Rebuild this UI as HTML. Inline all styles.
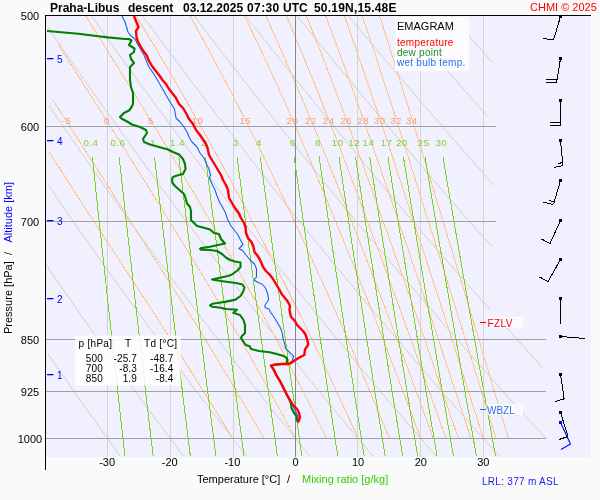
<!DOCTYPE html><html><head><meta charset="utf-8"><title>Emagram Praha-Libus</title><style>
html,body{margin:0;padding:0;background:#fafafa;width:600px;height:500px;overflow:hidden}
svg{display:block}text{font-family:"Liberation Sans",Arial,Helvetica,sans-serif}
</style></head><body>
<svg width="600" height="500" viewBox="0 0 600 500">
<defs><clipPath id="pc"><rect x="46" y="16" width="545" height="441"/></clipPath><clipPath id="dc"><rect x="47" y="16" width="544" height="441"/></clipPath></defs>
<rect x="46" y="16" width="545" height="441" fill="#f0f0ff"/>
<g clip-path="url(#pc)">
<path d="M107.5 16V457M170.5 16V457M233.5 16V457M357.5 16V457M420.5 16V457M483.5 16V457" stroke="#d4d4d4" stroke-width="1" fill="none" shape-rendering="crispEdges"/>
<g stroke="#d2d2ca" stroke-width="1" fill="none"><polyline points="48.12,353.8 52.91,360.83 57.65,367.78 62.36,374.65 67.03,381.45 71.67,388.17 76.26,394.75 80.83,401.2 85.36,407.58 89.85,413.89 94.31,420.14 98.74,426.32 103.14,432.44 107.5,438.5 111.83,444.5 116.14,450.44 120.41,456.32"/><polyline points="45.11,263.43 50.65,271.48 56.13,279.43 61.56,287.27 66.95,295.01 72.28,302.65 77.57,310.2 82.81,317.66 88,325.03 93.15,332.31 98.26,339.5 103.33,346.69 108.35,353.8 113.33,360.83 118.27,367.78 123.17,374.65 128.03,381.45 132.86,388.17 137.65,394.75 142.4,401.2 147.11,407.58 151.79,413.89 156.44,420.14 161.05,426.32 165.62,432.44 170.17,438.5 174.68,444.5 179.16,450.44 183.61,456.32"/><polyline points="48.42,185.24 54.72,194.51 60.95,203.64 67.12,212.63 73.22,221.5 79.26,230.12 85.24,238.62 91.17,247 97.03,255.27 102.84,263.43 108.59,271.48 114.29,279.43 119.94,287.27 125.54,295.01 131.08,302.65 136.58,310.2 142.02,317.66 147.43,325.03 152.78,332.31 158.09,339.5 163.35,346.69 168.57,353.8 173.75,360.83 178.89,367.78 183.98,374.65 189.04,381.45 194.05,388.17 199.03,394.75 203.97,401.2 208.87,407.58 213.73,413.89 218.56,420.14 223.35,426.32 228.11,432.44 232.83,438.5 237.52,444.5 242.18,450.44 246.8,456.32"/><polyline points="49.03,105.86 56.19,116.27 63.27,126.5 70.27,136.69 77.19,146.71 84.02,156.57 90.78,166.27 97.46,175.83 104.07,185.24 110.61,194.51 117.08,203.64 123.49,212.63 129.82,221.5 136.09,230.12 142.3,238.62 148.45,247 154.54,255.27 160.57,263.43 166.54,271.48 172.46,279.43 178.32,287.27 184.13,295.01 189.88,302.65 195.59,310.2 201.24,317.66 206.85,325.03 212.4,332.31 217.91,339.5 223.38,346.69 228.8,353.8 234.17,360.83 239.5,367.78 244.79,374.65 250.04,381.45 255.24,388.17 260.41,394.75 265.54,401.2 270.62,407.58 275.67,413.89 280.68,420.14 285.66,426.32 290.6,432.44 295.5,438.5 300.37,444.5 305.2,450.44 310,456.32"/><polyline points="47.92,27.56 56.06,39.38 64.09,50.97 72.01,62.35 79.82,73.53 87.53,84.5 95.15,95.27 102.67,105.86 110.1,116.27 117.44,126.5 124.69,136.69 131.86,146.71 138.95,156.57 145.95,166.27 152.88,175.83 159.73,185.24 166.51,194.51 173.22,203.64 179.85,212.63 186.42,221.5 192.92,230.12 199.36,238.62 205.73,247 212.04,255.27 218.29,263.43 224.48,271.48 230.62,279.43 236.69,287.27 242.71,295.01 248.68,302.65 254.6,310.2 260.46,317.66 266.27,325.03 272.03,332.31 277.74,339.5 283.4,346.69 289.02,353.8 294.59,360.83 300.12,367.78 305.6,374.65 311.04,381.45 316.44,388.17 321.79,394.75 327.11,401.2 332.38,407.58 337.61,413.89 342.81,420.14 347.96,426.32 353.08,432.44 358.17,438.5 363.21,444.5 368.22,450.44 373.2,456.32"/><polyline points="91.09,15.5 99.63,27.56 108.06,39.38 116.37,50.97 124.57,62.35 132.66,73.53 140.64,84.5 148.53,95.27 156.31,105.86 164.01,116.27 171.6,126.5 179.11,136.69 186.53,146.71 193.87,156.57 201.12,166.27 208.3,175.83 215.39,185.24 222.41,194.51 229.35,203.64 236.22,212.63 243.02,221.5 249.75,230.12 256.42,238.62 263.02,247 269.55,255.27 276.02,263.43 282.43,271.48 288.78,279.43 295.07,287.27 301.3,295.01 307.48,302.65 313.6,310.2 319.67,317.66 325.69,325.03 331.65,332.31 337.57,339.5 343.43,346.69 349.25,353.8 355.02,360.83 360.74,367.78 366.41,374.65 372.04,381.45 377.63,388.17 383.17,394.75 388.68,401.2 394.13,407.58 399.55,413.89 404.93,420.14 410.27,426.32 415.57,432.44 420.83,438.5 426.06,444.5 431.25,450.44 436.4,456.32"/><polyline points="142.51,15.5 151.34,27.56 160.06,39.38 168.65,50.97 177.13,62.35 185.49,73.53 193.75,84.5 201.91,95.27 209.96,105.86 217.91,116.27 225.77,126.5 233.53,136.69 241.21,146.71 248.79,156.57 256.3,166.27 263.71,175.83 271.05,185.24 278.31,194.51 285.49,203.64 292.59,212.63 299.62,221.5 306.59,230.12 313.48,238.62 320.3,247 327.06,255.27 333.75,263.43 340.38,271.48 346.94,279.43 353.45,287.27 359.89,295.01 366.28,302.65 372.61,310.2 378.89,317.66 385.11,325.03 391.28,332.31 397.39,339.5 403.46,346.69 409.47,353.8 415.44,360.83 421.35,367.78 427.22,374.65 433.05,381.45 438.82,388.17 444.56,394.75 450.25,401.2 455.89,407.58 461.49,413.89 467.06,420.14 472.58,426.32 478.06,432.44 483.5,438.5 488.9,444.5 494.27,450.44 499.6,456.32"/><polyline points="193.93,15.5 203.05,27.56 212.05,39.38 220.93,50.97 229.69,62.35 238.33,73.53 246.86,84.5 255.28,95.27 263.6,105.86 271.82,116.27 279.93,126.5 287.96,136.69 295.88,146.71 303.72,156.57 311.47,166.27 319.13,175.83 326.71,185.24 334.21,194.51 341.62,203.64 348.96,212.63 356.23,221.5 363.42,230.12 370.53,238.62 377.58,247 384.56,255.27 391.47,263.43 398.32,271.48 405.1,279.43 411.82,287.27 418.48,295.01 425.08,302.65 431.62,310.2 438.1,317.66 444.53,325.03 450.9,332.31 457.22,339.5 463.48,346.69 469.7,353.8 475.86,360.83 481.97,367.78 488.03,374.65 494.05,381.45 500.02,388.17 505.94,394.75 511.81,401.2 517.65,407.58 523.44,413.89 529.18,420.14 534.88,426.32 540.55,432.44 546.17,438.5"/><polyline points="245.35,15.5 254.76,27.56 264.05,39.38 273.21,50.97 282.25,62.35 291.17,73.53 299.97,84.5 308.66,95.27 317.24,105.86 325.72,116.27 334.1,126.5 342.38,136.69 350.56,146.71 358.64,156.57 366.64,166.27 374.55,175.83 382.37,185.24 390.1,194.51 397.76,203.64 405.33,212.63 412.83,221.5 420.25,230.12 427.59,238.62 434.87,247 442.07,255.27 449.2,263.43 456.27,271.48 463.27,279.43 470.2,287.27 477.07,295.01 483.88,302.65 490.63,310.2"/><polyline points="503.95,325.03 510.53,332.31 517.05,339.5 523.51,346.69 529.92,353.8 536.28,360.83 542.59,367.78"/><polyline points="296.76,15.5 306.47,27.56 316.05,39.38 325.49,50.97 334.81,62.35 344,73.53 353.08,84.5 362.04,95.27 370.89,105.86 379.63,116.27 388.26,126.5 396.8,136.69 405.23,146.71 413.57,156.57 421.81,166.27 429.96,175.83 438.03,185.24 446,194.51 453.89,203.64 461.7,212.63 469.43,221.5 477.08,230.12 484.65,238.62 492.15,247"/><polyline points="348.18,15.5 358.18,27.56 368.05,39.38 377.77,50.97 387.37,62.35 396.84,73.53 406.19,84.5 415.42,95.27 424.53,105.86 433.53,116.27 442.43,126.5 451.22,136.69 459.91,146.71 468.49,156.57 476.98,166.27 485.38,175.83 493.68,185.24"/><polyline points="399.6,15.5 409.89,27.56 420.04,39.38 430.05,50.97 439.93,62.35 449.68,73.53 459.3,84.5 468.79,95.27 478.17,105.86 487.44,116.27"/><polyline points="451.02,15.5 461.6,27.56 472.04,39.38 482.33,50.97 492.49,62.35"/></g>
<g stroke="#ffc48a" stroke-width="1" fill="none" shape-rendering="crispEdges"><polyline points="48.84,151.66 64.36,175.83 79.35,199.09 93.84,221.5 107.84,242.83 121.36,263.43 134.41,283.36 147.02,302.65 159.18,321.36 170.9,339.5 182.19,357.33 193.07,374.65 203.56,391.5 213.67,407.58 223.42,423.24 232.83,438.5"/><polyline points="53.32,100.59 70,126.5 86.05,151.66 101.49,175.83 116.34,199.09 130.61,221.5 144.34,242.83 157.54,263.43 170.22,283.36 182.41,302.65 194.13,321.36 205.37,339.5 216.16,357.33 226.53,374.65 236.49,391.5 246.07,407.58 255.29,423.24 264.17,438.5"/><polyline points="58.73,45.2 76.75,73.53 94,100.59 110.49,126.5 126.27,151.66 141.36,175.83 155.78,199.09 169.56,221.5 182.74,242.83 195.35,263.43 207.42,283.36 218.97,302.65 230.02,321.36 240.59,339.5 250.71,357.33 260.41,374.65 269.72,391.5 278.65,407.58 287.24,423.24 295.5,438.5"/><polyline points="85.46,15.5 104.05,45.2 121.71,73.53 138.48,100.59 154.39,126.5 169.49,151.66 183.83,175.83 197.45,199.09 210.41,221.5 222.73,242.83 234.47,263.43 245.67,283.36 256.36,302.65 266.56,321.36 276.31,339.5 285.63,357.33 294.56,374.65 303.12,391.5 311.34,407.58 319.23,423.24 326.83,438.5"/><polyline points="136.07,15.5 153.83,45.2 170.53,73.53 186.24,100.59 201.03,126.5 214.97,151.66 228.14,175.83 240.59,199.09 252.39,221.5 263.6,242.83 274.25,263.43 284.4,283.36 294.09,302.65 303.35,321.36 312.19,339.5 320.65,357.33 328.76,374.65 336.54,391.5 344.02,407.58 351.23,423.24 358.17,438.5"/><polyline points="189.98,15.5 206.2,45.2 221.32,73.53 235.44,100.59 248.69,126.5 261.13,151.66 272.86,175.83 283.95,199.09 294.45,221.5 304.42,242.83 313.92,263.43 322.99,283.36 331.66,302.65 339.95,321.36 347.89,339.5 355.51,357.33 362.82,374.65 369.86,391.5 376.64,407.58 383.18,423.24 389.5,438.5"/><polyline points="244.43,15.5 258.57,45.2 271.72,73.53 284.02,100.59 295.55,126.5 306.42,151.66 316.68,175.83 326.4,199.09 335.64,221.5 344.45,242.83 352.86,263.43 360.91,283.36 368.63,302.65 376.04,321.36 383.16,339.5 390.01,357.33 396.61,374.65 402.97,391.5 409.12,407.58 415.07,423.24 420.83,438.5"/><polyline points="265.65,15.5 278.92,45.2 291.29,73.53 302.87,100.59 313.76,126.5 324.02,151.66 333.74,175.83 342.96,199.09 351.74,221.5 360.12,242.83 368.14,263.43 375.82,283.36 383.2,302.65 390.29,321.36 397.12,339.5 403.69,357.33 410.03,374.65 416.15,391.5 422.07,407.58 427.81,423.24 433.37,438.5"/><polyline points="286.32,15.5 298.76,45.2 310.38,73.53 321.29,100.59 331.56,126.5 341.27,151.66 350.48,175.83 359.24,199.09 367.59,221.5 375.58,242.83 383.23,263.43 390.57,283.36 397.63,302.65 404.43,321.36 410.98,339.5 417.29,357.33 423.39,374.65 429.29,391.5 435,407.58 440.53,423.24 445.9,438.5"/><polyline points="306.33,15.5 318.01,45.2 328.94,73.53 339.23,100.59 348.94,126.5 358.15,151.66 366.89,175.83 375.23,199.09 383.19,221.5 390.81,242.83 398.12,263.43 405.15,283.36 411.92,302.65 418.45,321.36 424.74,339.5 430.81,357.33 436.69,374.65 442.38,391.5 447.89,407.58 453.24,423.24 458.43,438.5"/><polyline points="325.65,15.5 336.64,45.2 346.95,73.53 356.68,100.59 365.9,126.5 374.64,151.66 382.97,175.83 390.92,199.09 398.53,221.5 405.82,242.83 412.83,263.43 419.57,283.36 426.07,302.65 432.35,321.36 438.4,339.5 444.26,357.33 449.93,374.65 455.43,391.5 460.76,407.58 465.93,423.24 470.97,438.5"/><polyline points="344.27,15.5 354.65,45.2 364.42,73.53 373.66,100.59 382.42,126.5 390.76,151.66 398.72,175.83 406.32,199.09 413.61,221.5 420.61,242.83 427.34,263.43 433.83,283.36 440.09,302.65 446.13,321.36 451.98,339.5 457.63,357.33 463.12,374.65 468.43,391.5 473.6,407.58 478.62,423.24 483.5,438.5"/><polyline points="362.23,15.5 372.07,45.2 381.36,73.53 390.17,100.59 398.54,126.5 406.52,151.66 414.15,175.83 421.45,199.09 428.45,221.5 435.19,242.83 441.67,263.43 447.93,283.36 453.97,302.65 459.81,321.36 465.46,339.5 470.93,357.33 476.24,374.65 481.4,391.5 486.41,407.58 491.29,423.24 496.03,438.5"/><polyline points="379.54,15.5 388.93,45.2 397.81,73.53 406.25,100.59 414.28,126.5 421.95,151.66 429.28,175.83 436.31,199.09 443.07,221.5 449.57,242.83 455.83,263.43 461.88,283.36 467.72,302.65 473.37,321.36 478.85,339.5 484.16,357.33 489.32,374.65 494.33,391.5 499.2,407.58 503.95,423.24 508.57,438.5"/></g>
<path d="M46 126.5H496M46 221.5H496M46 339.5H546M46 391.5H546M46 438.5H546" stroke="#a0a0a0" stroke-width="1" shape-rendering="crispEdges"/>
<path d="M295.5 16V457" stroke="#888" stroke-width="1" shape-rendering="crispEdges"/>
<g stroke="#7cd21c" stroke-width="1" fill="none" shape-rendering="crispEdges"><polyline points="92.31,156.57 93.33,166.27 94.34,175.83 95.33,185.24 96.31,194.51 97.28,203.64 98.23,212.63 99.18,221.5 100.11,230.12 101.03,238.62 101.93,247 102.83,255.27 103.72,263.43 104.59,271.48 105.46,279.43 106.31,287.27 107.16,295.01 107.99,302.65 108.82,310.2 109.63,317.66 110.44,325.03 111.24,332.31 112.03,339.5 112.81,346.69 113.59,353.8 114.35,360.83 115.11,367.78 115.86,374.65 116.61,381.45 117.34,388.17 118.07,394.75 118.79,401.2 119.51,407.58 120.21,413.89 120.92,420.14 121.61,426.32 122.3,432.44 122.98,438.5 123.66,444.5 124.33,450.44 124.99,456.32"/><polyline points="119.13,156.57 120.19,166.27 121.24,175.83 122.28,185.24 123.3,194.51 124.31,203.64 125.3,212.63 126.28,221.5 127.25,230.12 128.21,238.62 129.15,247 130.09,255.27 131.01,263.43 131.92,271.48 132.82,279.43 133.71,287.27 134.59,295.01 135.46,302.65 136.32,310.2 137.17,317.66 138.01,325.03 138.84,332.31 139.67,339.5 140.48,346.69 141.29,353.8 142.09,360.83 142.88,367.78 143.66,374.65 144.43,381.45 145.2,388.17 145.96,394.75 146.71,401.2 147.46,407.58 148.19,413.89 148.92,420.14 149.65,426.32 150.37,432.44 151.08,438.5 151.78,444.5 152.48,450.44 153.17,456.32"/><polyline points="154.49,156.57 155.61,166.27 156.72,175.83 157.81,185.24 158.89,194.51 159.95,203.64 160.99,212.63 162.03,221.5 163.05,230.12 164.06,238.62 165.05,247 166.04,255.27 167.01,263.43 167.97,271.48 168.92,279.43 169.85,287.27 170.78,295.01 171.7,302.65 172.6,310.2 173.5,317.66 174.39,325.03 175.26,332.31 176.13,339.5 176.99,346.69 177.84,353.8 178.68,360.83 179.51,367.78 180.34,374.65 181.15,381.45 181.96,388.17 182.76,394.75 183.56,401.2 184.34,407.58 185.12,413.89 185.89,420.14 186.65,426.32 187.41,432.44 188.16,438.5 188.9,444.5 189.64,450.44 190.37,456.32"/><polyline points="178.8,156.57 179.96,166.27 181.11,175.83 182.24,185.24 183.35,194.51 184.45,203.64 185.53,212.63 186.6,221.5 187.66,230.12 188.71,238.62 189.74,247 190.76,255.27 191.76,263.43 192.76,271.48 193.74,279.43 194.71,287.27 195.67,295.01 196.62,302.65 197.56,310.2 198.49,317.66 199.41,325.03 200.31,332.31 201.21,339.5 202.1,346.69 202.98,353.8 203.85,360.83 204.72,367.78 205.57,374.65 206.42,381.45 207.25,388.17 208.08,394.75 208.9,401.2 209.72,407.58 210.52,413.89 211.32,420.14 212.11,426.32 212.9,432.44 213.67,438.5 214.44,444.5 215.21,450.44 215.96,456.32"/><polyline points="205.5,156.57 206.7,166.27 207.89,175.83 209.06,185.24 210.22,194.51 211.36,203.64 212.49,212.63 213.6,221.5 214.7,230.12 215.78,238.62 216.85,247 217.91,255.27 218.96,263.43 219.99,271.48 221.01,279.43 222.02,287.27 223.01,295.01 224,302.65 224.98,310.2 225.94,317.66 226.89,325.03 227.84,332.31 228.77,339.5 229.7,346.69 230.61,353.8 231.52,360.83 232.41,367.78 233.3,374.65 234.18,381.45 235.05,388.17 235.91,394.75 236.76,401.2 237.61,407.58 238.45,413.89 239.28,420.14 240.1,426.32 240.91,432.44 241.72,438.5 242.52,444.5 243.31,450.44 244.1,456.32"/><polyline points="237.06,156.57 238.32,166.27 239.56,175.83 240.78,185.24 241.99,194.51 243.19,203.64 244.36,212.63 245.52,221.5 246.67,230.12 247.8,238.62 248.92,247 250.03,255.27 251.12,263.43 252.2,271.48 253.26,279.43 254.32,287.27 255.36,295.01 256.39,302.65 257.41,310.2 258.42,317.66 259.42,325.03 260.4,332.31 261.38,339.5 262.34,346.69 263.3,353.8 264.25,360.83 265.18,367.78 266.11,374.65 267.03,381.45 267.94,388.17 268.84,394.75 269.73,401.2 270.62,407.58 271.49,413.89 272.36,420.14 273.22,426.32 274.07,432.44 274.91,438.5 275.75,444.5 276.58,450.44 277.4,456.32"/><polyline points="260.27,156.57 261.57,166.27 262.85,175.83 264.11,185.24 265.36,194.51 266.59,203.64 267.81,212.63 269,221.5 270.19,230.12 271.36,238.62 272.51,247 273.65,255.27 274.78,263.43 275.89,271.48 276.99,279.43 278.08,287.27 279.16,295.01 280.22,302.65 281.27,310.2 282.32,317.66 283.34,325.03 284.36,332.31 285.37,339.5 286.37,346.69 287.36,353.8 288.33,360.83 289.3,367.78 290.26,374.65 291.21,381.45 292.14,388.17 293.08,394.75 294,401.2 294.91,407.58 295.81,413.89 296.71,420.14 297.6,426.32 298.48,432.44 299.35,438.5 300.21,444.5 301.07,450.44 301.92,456.32"/><polyline points="294.18,156.57 295.54,166.27 296.88,175.83 298.2,185.24 299.5,194.51 300.79,203.64 302.06,212.63 303.32,221.5 304.55,230.12 305.78,238.62 306.99,247 308.18,255.27 309.36,263.43 310.52,271.48 311.68,279.43 312.82,287.27 313.94,295.01 315.05,302.65 316.16,310.2 317.25,317.66 318.32,325.03 319.39,332.31 320.44,339.5 321.49,346.69 322.52,353.8 323.54,360.83 324.56,367.78 325.56,374.65 326.55,381.45 327.54,388.17 328.51,394.75 329.47,401.2 330.43,407.58 331.38,413.89 332.31,420.14 333.24,426.32 334.17,432.44 335.08,438.5 335.98,444.5 336.88,450.44 337.77,456.32"/><polyline points="319.11,156.57 320.51,166.27 321.89,175.83 323.26,185.24 324.61,194.51 325.94,203.64 327.25,212.63 328.55,221.5 329.83,230.12 331.09,238.62 332.34,247 333.57,255.27 334.79,263.43 335.99,271.48 337.18,279.43 338.36,287.27 339.52,295.01 340.68,302.65 341.81,310.2 342.94,317.66 344.05,325.03 345.15,332.31 346.24,339.5 347.32,346.69 348.39,353.8 349.45,360.83 350.5,367.78 351.53,374.65 352.56,381.45 353.58,388.17 354.58,394.75 355.58,401.2 356.57,407.58 357.55,413.89 358.52,420.14 359.48,426.32 360.43,432.44 361.37,438.5 362.31,444.5 363.24,450.44 364.16,456.32"/><polyline points="338.95,156.57 340.39,166.27 341.81,175.83 343.21,185.24 344.59,194.51 345.95,203.64 347.3,212.63 348.63,221.5 349.94,230.12 351.24,238.62 352.52,247 353.78,255.27 355.03,263.43 356.27,271.48 357.49,279.43 358.7,287.27 359.89,295.01 361.07,302.65 362.24,310.2 363.4,317.66 364.54,325.03 365.67,332.31 366.79,339.5 367.9,346.69 368.99,353.8 370.08,360.83 371.15,367.78 372.22,374.65 373.27,381.45 374.31,388.17 375.35,394.75 376.37,401.2 377.38,407.58 378.39,413.89 379.38,420.14 380.37,426.32 381.35,432.44 382.32,438.5 383.28,444.5 384.23,450.44 385.17,456.32"/><polyline points="355.48,156.57 356.95,166.27 358.4,175.83 359.83,185.24 361.25,194.51 362.64,203.64 364.01,212.63 365.37,221.5 366.71,230.12 368.04,238.62 369.35,247 370.64,255.27 371.92,263.43 373.18,271.48 374.43,279.43 375.66,287.27 376.88,295.01 378.08,302.65 379.28,310.2 380.46,317.66 381.63,325.03 382.78,332.31 383.92,339.5 385.05,346.69 386.17,353.8 387.28,360.83 388.38,367.78 389.47,374.65 390.54,381.45 391.61,388.17 392.66,394.75 393.71,401.2 394.75,407.58 395.77,413.89 396.79,420.14 397.8,426.32 398.8,432.44 399.79,438.5 400.77,444.5 401.74,450.44 402.7,456.32"/><polyline points="369.69,156.57 371.19,166.27 372.67,175.83 374.12,185.24 375.56,194.51 376.98,203.64 378.38,212.63 379.76,221.5 381.13,230.12 382.48,238.62 383.81,247 385.12,255.27 386.42,263.43 387.71,271.48 388.98,279.43 390.24,287.27 391.48,295.01 392.71,302.65 393.92,310.2 395.12,317.66 396.31,325.03 397.49,332.31 398.65,339.5 399.8,346.69 400.94,353.8 402.07,360.83 403.19,367.78 404.3,374.65 405.39,381.45 406.48,388.17 407.55,394.75 408.62,401.2 409.67,407.58 410.72,413.89 411.75,420.14 412.78,426.32 413.8,432.44 414.81,438.5 415.81,444.5 416.8,450.44 417.78,456.32"/><polyline points="387.89,156.57 389.42,166.27 390.93,175.83 392.42,185.24 393.89,194.51 395.34,203.64 396.77,212.63 398.19,221.5 399.59,230.12 400.96,238.62 402.33,247 403.67,255.27 405,263.43 406.32,271.48 407.62,279.43 408.9,287.27 410.17,295.01 411.43,302.65 412.67,310.2 413.9,317.66 415.12,325.03 416.32,332.31 417.51,339.5 418.69,346.69 419.86,353.8 421.02,360.83 422.16,367.78 423.29,374.65 424.41,381.45 425.52,388.17 426.62,394.75 427.71,401.2 428.79,407.58 429.86,413.89 430.92,420.14 431.97,426.32 433.02,432.44 434.05,438.5 435.07,444.5 436.08,450.44 437.09,456.32"/><polyline points="403.37,156.57 404.93,166.27 406.47,175.83 407.99,185.24 409.48,194.51 410.96,203.64 412.42,212.63 413.86,221.5 415.29,230.12 416.69,238.62 418.08,247 419.46,255.27 420.81,263.43 422.15,271.48 423.48,279.43 424.79,287.27 426.08,295.01 427.36,302.65 428.63,310.2 429.88,317.66 431.12,325.03 432.35,332.31 433.57,339.5 434.77,346.69 435.96,353.8 437.14,360.83 438.3,367.78 439.46,374.65 440.6,381.45 441.73,388.17 442.85,394.75 443.97,401.2 445.07,407.58 446.16,413.89 447.24,420.14 448.31,426.32 449.37,432.44 450.42,438.5 451.47,444.5 452.5,450.44 453.53,456.32"/><polyline points="424.97,156.57 426.57,166.27 428.15,175.83 429.71,185.24 431.25,194.51 432.77,203.64 434.27,212.63 435.75,221.5 437.21,230.12 438.66,238.62 440.08,247 441.49,255.27 442.88,263.43 444.26,271.48 445.62,279.43 446.97,287.27 448.3,295.01 449.61,302.65 450.91,310.2 452.2,317.66 453.47,325.03 454.74,332.31 455.98,339.5 457.22,346.69 458.44,353.8 459.65,360.83 460.85,367.78 462.03,374.65 463.21,381.45 464.37,388.17 465.52,394.75 466.67,401.2 467.8,407.58 468.92,413.89 470.03,420.14 471.13,426.32 472.22,432.44 473.3,438.5 474.37,444.5 475.44,450.44 476.49,456.32"/><polyline points="442.91,156.57 444.55,166.27 446.16,175.83 447.76,185.24 449.33,194.51 450.88,203.64 452.41,212.63 453.92,221.5 455.42,230.12 456.89,238.62 458.35,247 459.79,255.27 461.22,263.43 462.62,271.48 464.01,279.43 465.39,287.27 466.75,295.01 468.09,302.65 469.42,310.2 470.74,317.66 472.04,325.03 473.33,332.31 474.6,339.5 475.87,346.69 477.12,353.8 478.35,360.83 479.58,367.78 480.79,374.65 481.99,381.45 483.18,388.17 484.36,394.75 485.53,401.2 486.68,407.58 487.83,413.89 488.96,420.14 490.09,426.32 491.2,432.44 492.31,438.5 493.41,444.5 494.49,450.44 495.57,456.32"/></g>
</g>
<g fill="#fa9a7a" font-size="9.6" letter-spacing="0.5" text-anchor="middle"><text x="66.47" y="124">-5</text><text x="106.97" y="124">0</text><text x="150.86" y="124">5</text><text x="197.5" y="124">10</text><text x="245.33" y="124">15</text><text x="292.44" y="124">20</text><text x="310.74" y="124">22</text><text x="328.64" y="124">24</text><text x="346.12" y="124">26</text><text x="363.17" y="124">28</text><text x="379.8" y="124">30</text><text x="396.02" y="124">32</text><text x="411.85" y="124">34</text></g>
<g fill="#80d030" font-size="9.6" letter-spacing="0.5" text-anchor="middle"><text x="91.01" y="146">0.4</text><text x="117.83" y="146">0.6</text><text x="153.19" y="146">1</text><text x="177.5" y="146">1.4</text><text x="204.2" y="146">2</text><text x="235.76" y="146">3</text><text x="258.97" y="146">4</text><text x="292.88" y="146">6</text><text x="317.81" y="146">8</text><text x="337.65" y="146">10</text><text x="354.18" y="146">12</text><text x="368.39" y="146">14</text><text x="386.59" y="146">17</text><text x="402.07" y="146">20</text><text x="423.67" y="146">25</text><text x="441.61" y="146">30</text></g>
<g clip-path="url(#dc)" fill="none" stroke-linejoin="round" stroke-linecap="round">
<polyline points="30,30 47,31 78.3,33.7 98.3,36.3 107.7,37.4 125,39 129,39 131.5,40.5 129,45 134.5,48.5 134,52 130,55 131,59 134,63 130,67 130,80 131,87 133,93 133,100 133,104 131,108 129,110.5 124,113 120,117 121.5,118.5 128,122 132,124.5 140,127 146,130 147,133 145,136 143,139 144,142 150,144.5 159,147 168,149.5 173,152 179,154.5 183,159 185,164 185.5,169 183,174 177,175.5 173,177 172,179 172.5,183 175,186 180,190.5 184,194 185.5,198 187,203.5 190,207 191,211 191,220 194,223 197,226 203,227.5 210,229.5 214,233 219,234 221,239 225,243.5 218,245 210,246.8 201,248 200,248.8 201,249.6 210,250 217,251 222,254 226,257.5 230,260 235,261.5 240.5,262.5 240.5,267 238,270 232,274.5 228,276 221,277.5 212,279.5 221,281 228,282 236,283 242.5,284.5 244.5,287.5 243,292 240.5,296 235.5,299.6 225,301.9 217.5,303 212.3,303.8 210,305.3 212.3,306.8 219,307.5 226.5,309 237,309.8 233.3,312.8 240,315 243.5,320 245,325 245,333 242,336 241,338 243,341 245.7,345 249.7,346.3 251,349 259,351 269.7,352.3 277.7,354.3 284.3,356.3 287,358.3 287,362.3 285.7,363.7 281.7,364 275,364.6 271,365.7 273.7,369.7 276.3,375 279,379.5 281,383 284,389 287,395 289.5,400 291,404 291.5,408 294,413 296.5,416 297,420" stroke="#008000" stroke-width="2.1"/>
<polyline points="122,16 125,22 128,32 130,35 135,39 137.5,44 141,50 144,55 146,60 149,67 154.5,75 158,81 162,88 166,95 170,102 174.5,109 176,118 180,122 184,127 187,132 190,139 192,142 197,147 200,153 204,158 206.5,164 209,169 210.5,175 209.5,178 212,184 215,190 217,196 220,203 223,208 225.5,213 227.5,219 231,226 235,231 238,235 240.5,240 243,244.5 239,248.5 243,251 246,255 250,260 254.5,264 256.5,269 256.5,277 254,280 258,282.5 262,284 265.5,288 267,292 268,295 268.5,300 265,305 265,307.5 269,309 271,313 274,317 277,322 280,327 282,332 283,338 283.7,340.3 285.7,348.3 289.7,352.3 293.7,356.3 292.3,360.3 289.7,363.7 281.7,364 275,364.6 271,365.7 273.7,369.7 276.3,375 279,379.5 281,383 284,389 287,395 290,400 292.5,405 295,410 298,417 298.5,421" stroke="#1464e6" stroke-width="1.1"/>
<polyline points="134,14 134,16 136,21 138.5,27 136,31 136.5,37 138,42 141,47 144,52 146.5,55 148.5,60 152,66 155,70 159,75 162.5,80 166,84 169,89 173,94 176,98 179,104 183,108 186,113 189,119 193,124 196,130 200,135 203,139.5 205.5,143 207.5,148 209,155 212,160 215,165 218,170 221,175 223,180 226,185 228,190 229,198 232,203 235,208 239,213.5 241,218 244,223 245.5,227 246,233 248,238 251.5,242 253.5,247 254.5,252 257,255 259.5,259 261,262 263,267 266,271 270,275 273,279 276,284 279,289 282,294.5 285,298 288,302 290,306 289.5,310 291,317 295,321 297,325 300,328 303,331 305.5,334.5 307,339 308.3,344.3 305,349.7 304.3,355 299,357.7 295,360.3 291,363 288.3,364 281.7,364 275,364.6 271,365.7 273.7,369.7 276.3,375 279,379.5 281,383 284,389 287,395 290,400 293,405 297,409 299,413 300,417 299,420 298,422" stroke="#ff0000" stroke-width="2.4"/>
</g>
<rect x="395" y="17" width="74" height="54" fill="#ffffff" fill-opacity="0.8"/>
<text x="397" y="30" font-size="11" fill="#000">EMAGRAM</text>
<g font-size="10" letter-spacing="0.25">
<text x="397" y="45.5" fill="#ff0000">temperature</text>
<text x="397" y="55.5" fill="#228b22">dew point</text>
<text x="397" y="65.5" fill="#2d6fe6">wet bulb temp.</text>
</g>
<rect x="75" y="335.5" width="105.5" height="50" fill="#ffffff" fill-opacity="0.85"/>
<g font-size="10" fill="#000" letter-spacing="0.3">
<text x="78.5" y="347">p [hPa]</text><text x="125" y="347">T</text><text x="144" y="347">Td [°C]</text>
</g><g font-size="10" fill="#000" text-anchor="end" letter-spacing="0.15">
<text x="103" y="361.8">500</text><text x="137" y="361.8">-25.7</text><text x="173.5" y="361.8">-48.7</text>
<text x="103" y="371.8">700</text><text x="137" y="371.8">-8.3</text><text x="173.5" y="371.8">-16.4</text>
<text x="103" y="381.8">850</text><text x="137" y="381.8">1.9</text><text x="173.5" y="381.8">-8.4</text>
</g>
<rect x="487.5" y="317" width="35.5" height="11" fill="#ffffff" fill-opacity="0.75"/>
<path d="M480 322.5H486" stroke="#ff0000" stroke-width="1" shape-rendering="crispEdges"/>
<text x="487.5" y="327" font-size="10" fill="#ff0000" letter-spacing="0.4">FZLV</text>
<rect x="486.5" y="404" width="36.5" height="11" fill="#ffffff" fill-opacity="0.75"/>
<path d="M480 409.5H486" stroke="#2d6fe6" stroke-width="1" shape-rendering="crispEdges"/>
<text x="487" y="414" font-size="10" fill="#2d6fe6">WBZL</text>
<g stroke="#000" stroke-width="1" fill="none" shape-rendering="crispEdges">
<path d="M560.5 16.5L553.5 40M553.5 40L543 38.5"/>
<path d="M560.5 58.5L556.5 83M556.5 80L546 79.5M556.5 83L546 82.5"/>
<path d="M560.5 100.5L560.5 125.5M560.5 122.5L550 122.5M560.5 125.5L550 125.5"/>
<path d="M560.5 140.5L563 165.5M563 165.5L554 167.5M563 162.5L558 163.5"/>
<path d="M560.5 180.5L553.5 204.5M553.5 204.5L543 202M553.5 202L549 200"/>
<path d="M560.5 220.5L550 243.5M550 243.5L541.5 239"/>
<path d="M560.5 259.5L548 281.5M548 281.5L539.5 277"/>
<path d="M560.5 298.5L560.5 323.5"/>
<path d="M560.5 336.5L584.8 338.5"/>
<path d="M560.5 374.5L564.2 398.8M564.2 398.8L555.2 401.5"/>
<path d="M560.5 412.5L568 436.5M568 436.5L559 439.5"/>
</g><g fill="#000">
<rect x="559" y="15" width="3" height="3"/>
<rect x="559" y="57" width="3" height="3"/>
<rect x="559" y="99" width="3" height="3"/>
<rect x="559" y="139" width="3" height="3"/>
<rect x="559" y="179" width="3" height="3"/>
<rect x="559" y="219" width="3" height="3"/>
<rect x="559" y="258" width="3" height="3"/>
<rect x="559" y="297" width="3" height="3"/>
<rect x="559" y="335" width="3" height="3"/>
<rect x="559" y="373" width="3" height="3"/>
<rect x="559" y="411" width="3" height="3"/>
</g>
<path d="M560.5 422.5L570.5 444L561 449.5" stroke="#0000ff" stroke-width="1.1" fill="none"/>
<rect x="559" y="421" width="3" height="3" fill="#0000ff"/>
<path d="M45 15.5H591M45.5 15V470" stroke="#000" stroke-width="1" shape-rendering="crispEdges"/>
<g font-size="12" font-weight="bold" fill="#000">
<text x="50" y="12">Praha-Libus</text><text x="128" y="12">descent</text><text x="183" y="12">03.12.2025</text><text x="247" y="12" letter-spacing="0.4">07:30</text><text x="283" y="12">UTC</text><text x="314" y="12" letter-spacing="0.2">50.19N,15.48E</text>
</g>
<text x="530" y="11" font-size="11" fill="#ff0000">CHMI © 2025</text>
<g font-size="11" fill="#000" text-anchor="middle">
<text x="30" y="19.8">500</text>
<text x="30" y="130.8">600</text>
<text x="30" y="225.8">700</text>
<text x="30" y="343.8">850</text>
<text x="30" y="395.8">925</text>
<text x="30" y="442.8">1000</text>
</g>
<g fill="#0000ff">
<rect x="47" y="58" width="6.5" height="1.3"/>
<text x="57" y="63" font-size="10">5</text>
<rect x="47" y="140" width="6.5" height="1.3"/>
<text x="57" y="145" font-size="10">4</text>
<rect x="47" y="220" width="6.5" height="1.3"/>
<text x="57" y="225" font-size="10">3</text>
<rect x="47" y="298" width="6.5" height="1.3"/>
<text x="57" y="303" font-size="10">2</text>
<rect x="47" y="374" width="6.5" height="1.3"/>
<text x="57" y="379" font-size="10">1</text>
</g>
<g font-size="11" fill="#000" text-anchor="middle">
<text x="107.12" y="466">-30</text>
<text x="169.75" y="466">-20</text>
<text x="232.38" y="466">-10</text>
<text x="295.5" y="466">0</text>
<text x="358.12" y="466">10</text>
<text x="420.75" y="466">20</text>
<text x="483.38" y="466">30</text>
</g>
<text x="197" y="483" font-size="11" fill="#000">Temperature [°C]</text>
<text x="287" y="483" font-size="11" fill="#000">/</text>
<text x="302" y="483" font-size="11" fill="#33cc00">Mixing ratio [g/kg]</text>
<g transform="translate(11.8 334) rotate(-90)" font-size="11"><text x="0" y="0" fill="#000">Pressure [hPa]</text><text x="79" y="0" fill="#000">/</text><text x="91.5" y="0" fill="#0000ff">Altitude [km]</text></g>
<text x="482" y="485" font-size="10" fill="#1c1cf0" letter-spacing="0.28">LRL: 377 m ASL</text>
</svg></body></html>
